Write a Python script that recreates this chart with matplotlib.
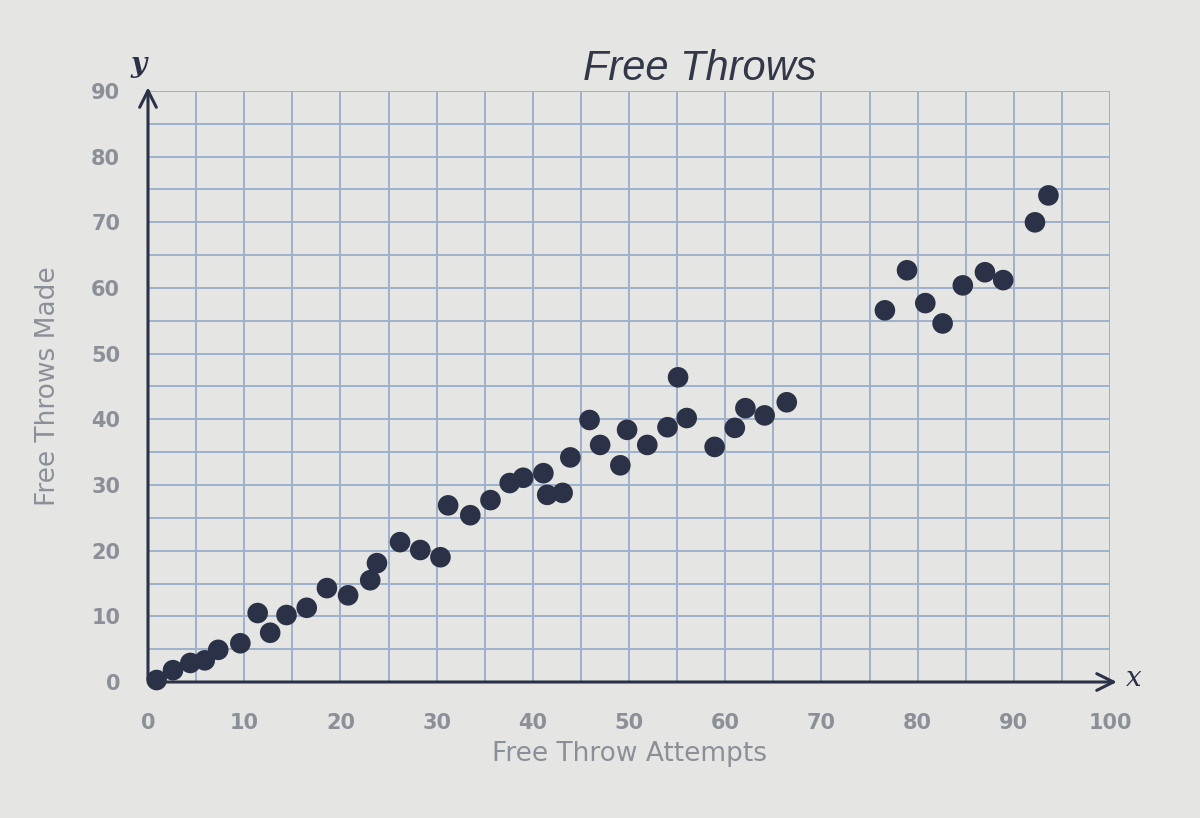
import numpy as np
import matplotlib
matplotlib.use("Agg")
import matplotlib.pyplot as plt

## DATA:
attempts = [0.9, 2.6, 4.4, 5.9, 7.3, 9.6, 11.4, 12.7, 14.4, 16.5,
            18.6, 20.8, 23.1, 23.8, 26.2, 28.3, 30.4, 31.2, 33.5, 35.6,
            37.6, 39.0, 41.1, 41.5, 43.1, 43.9, 45.9, 47.0, 49.1, 49.8,
            51.9, 54.0, 56.0, 55.1, 58.9, 61.0, 62.1, 64.1, 66.4,
            76.6, 78.9, 80.8, 82.6, 84.7, 87.0, 88.9, 92.2, 93.6]
made = [0.3, 1.8, 2.9, 3.3, 4.9, 5.9, 10.5, 7.5, 10.2, 11.3,
        14.3, 13.2, 15.5, 18.1, 21.3, 20.1, 19.0, 26.9, 25.4, 27.7,
        30.3, 31.1, 31.8, 28.5, 28.8, 34.2, 39.9, 36.1, 33.0, 38.4,
        36.1, 38.8, 40.2, 46.4, 35.8, 38.7, 41.7, 40.6, 42.6,
        56.6, 62.7, 57.7, 54.6, 60.4, 62.4, 61.2, 70.0, 74.1]

x_ticks = np.arange(0, 101, 10)
y_ticks = np.arange(0, 91, 10)

## STYLE
bg = '#e5e6e3'
grid_col = '#9fb0cb'
ink = '#2b3248'
label_gray = '#8b8f98'

fig = plt.figure(figsize=(12, 8.18), dpi=100, facecolor=bg)
ax = fig.add_axes([148/1200, 136/818, 962/1200, 591/818], facecolor=bg)

ax.set_xlim(0, 100)
ax.set_ylim(0, 90)

# grid every 5 units
ax.set_xticks(x_ticks)
ax.set_yticks(y_ticks)
ax.set_xticks(np.arange(5, 100, 10), minor=True)
ax.set_yticks(np.arange(5, 90, 10), minor=True)
ax.grid(True, which='both', color=grid_col, linewidth=1.4)
ax.set_axisbelow(True)
ax.tick_params(which='both', length=0)
ax.tick_params(axis='x', pad=22, labelsize=15, labelcolor=label_gray)
ax.tick_params(axis='y', pad=20, labelsize=15, labelcolor=label_gray)
for lab in ax.get_xticklabels() + ax.get_yticklabels():
    lab.set_fontweight('bold')

for s in ax.spines.values():
    s.set_visible(False)

# axis arrows
ax.annotate('', xy=(101, 0), xytext=(0, 0), annotation_clip=False,
            arrowprops=dict(arrowstyle='->', color=ink, lw=2.2, mutation_scale=30))
ax.annotate('', xy=(0, 91), xytext=(0, 0), annotation_clip=False,
            arrowprops=dict(arrowstyle='->', color=ink, lw=2.2, mutation_scale=30))
ax.text(102.5, 0.5, 'x', fontsize=20, style='italic', family='DejaVu Serif',
        color=ink, ha='center', va='center', clip_on=False)
ax.text(-1.0, 94, 'y', fontsize=20, style='italic', fontweight='bold',
        family='DejaVu Serif', color=ink, ha='center', va='center', clip_on=False)

ax.scatter(attempts, made, s=220, color=ink, edgecolors='none', zorder=3, clip_on=False)

# title sits right of centre in the original, just above the top grid line
ax.text(57.4, 90.3, 'Free Throws', fontsize=30, style='italic', family='Liberation Sans',
        color='#333849', ha='center', va='bottom', clip_on=False)
ax.set_xlabel('Free Throw Attempts', fontsize=19, color=label_gray, labelpad=6)
ax.set_ylabel('Free Throws Made', fontsize=19, color=label_gray, labelpad=22)

fig.savefig('out.png', dpi=100, facecolor=bg)
